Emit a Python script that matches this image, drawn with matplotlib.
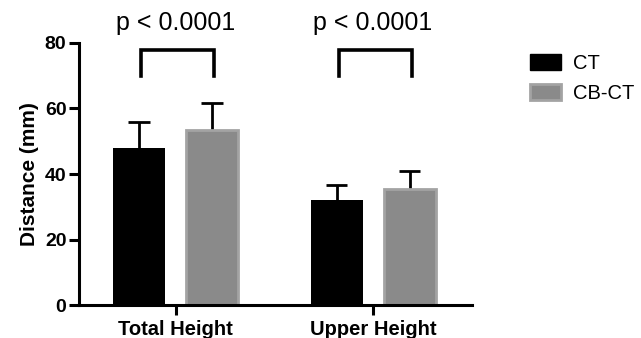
import numpy as np
import matplotlib
matplotlib.use("Agg")
import matplotlib.pyplot as plt
from matplotlib.patches import Patch

groups = ["Total Height", "Upper Height"]
series = ["CT", "CB-CT"]
means_ct = [48, 32]
sd_ct = [8, 4.5]
means_cbct = [53.3, 35.5]
sd_cbct = [8.3, 5.5]
p_labels = ["p < 0.0001", "p < 0.0001"]

plt.rcParams['font.family'] = ['Liberation Sans', 'DejaVu Sans']

fig = plt.figure(figsize=(6.41, 3.38), dpi=100)
ax = fig.add_axes([0.1232, 0.0976, 0.6128, 0.7752])

x = np.arange(len(groups))
w = 0.264
off = 0.185
cap = 0.055

# error bars (upper only, no lower cap)
for xs, m, s in [(x - off, means_ct, sd_ct), (x + off, means_cbct, sd_cbct)]:
    top = np.array(m) + np.array(s)
    ax.vlines(xs, m, top, color="black", lw=2, zorder=1)
    ax.hlines(top, xs - cap, xs + cap, color="black", lw=2, zorder=1)

ax.bar(x - off, means_ct, w, color="black", edgecolor="black", linewidth=0, zorder=2)
ax.bar(x + off, means_cbct, w, color="#8a8a8a", edgecolor="#a3a3a3", linewidth=2, zorder=2)

# significance brackets
for i, lab in enumerate(p_labels):
    x0, x1 = i - off + 0.01, i + off + 0.01
    ax.plot([x0, x0, x1, x1], [70, 78, 78, 70], color="black", lw=2.6,
            clip_on=False, solid_joinstyle="miter")
    ax.text(i, 82.5, lab, ha="center", va="bottom", fontsize=18, clip_on=False)

ax.set_xlim(-0.49, 1.50)
ax.set_ylim(0, 80)
ax.set_yticks([0, 20, 40, 60, 80])
ax.set_xticks(x)
ax.set_xticklabels(groups, fontweight="bold", fontsize=14.5)
for t in ax.get_yticklabels():
    t.set_fontweight("bold")
    t.set_fontsize(14)
ax.set_ylabel("Distance (mm)", fontweight="bold", fontsize=15, labelpad=4)

for s in ["top", "right"]:
    ax.spines[s].set_visible(False)
for s in ["left", "bottom"]:
    ax.spines[s].set_linewidth(2.2)
ax.tick_params(axis="both", width=2.2, length=7, pad=2)
ax.tick_params(axis="x", pad=4)

handles = [Patch(facecolor="black", edgecolor="black"),
           Patch(facecolor="#8a8a8a", edgecolor="#a3a3a3", linewidth=2)]
fig.legend(handles, series, loc="upper left", bbox_to_anchor=(0.798, 0.893),
           frameon=False, fontsize=14.5, handlelength=1.55, handleheight=0.85,
           handletextpad=0.6, labelspacing=0.55)

fig.savefig("out.png", dpi=100)
